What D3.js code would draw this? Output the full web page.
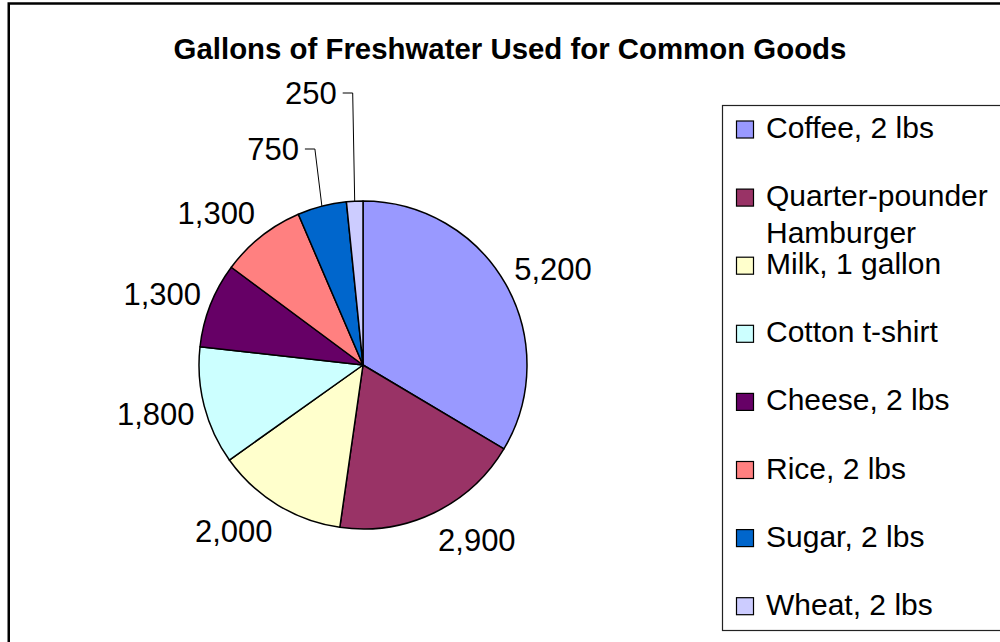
<!DOCTYPE html>
<html>
<head>
<meta charset="utf-8">
<script src="https://cdn.jsdelivr.net/npm/d3@7"></script>
<style>
  html, body { margin: 0; padding: 0; background: #fff; }
  svg { display: block; font-family: "Liberation Sans", Arial, sans-serif; }
</style>
</head>
<body>
<svg id="chart"></svg>
<script>
const categories = [
  ["Coffee, 2 lbs"],
  ["Quarter-pounder", "Hamburger"],
  ["Milk, 1 gallon"],
  ["Cotton t-shirt"],
  ["Cheese, 2 lbs"],
  ["Rice, 2 lbs"],
  ["Sugar, 2 lbs"],
  ["Wheat, 2 lbs"]
];
const gallons = [5200, 2900, 2000, 1800, 1300, 1300, 750, 250];
const colors = ["#9999FF", "#993366", "#FFFFCC", "#CCFFFF", "#660066", "#FF8080", "#0066CC", "#CCCCFF"];
// labels dragged away from the pie, with a leader line: [index, label y, corner shift]
const movedLabels = [[6, 149, 7], [7, 93, 2]];

const width = 1000;
const height = 642;
const cx = 363;
const cy = 365;
const radius = 164;

const svg = d3.select("#chart").attr("width", width).attr("height", height);

svg
  .append("rect")
  .attr("x", 8.75)
  .attr("y", 3.5)
  .attr("width", 1100)
  .attr("height", 800)
  .attr("fill", "#fff")
  .attr("stroke", "#000")
  .attr("stroke-width", 2.5);

svg
  .append("text")
  .attr("x", 510)
  .attr("y", 59)
  .attr("text-anchor", "middle")
  .style("font-size", "29.4px")
  .style("font-weight", "bold")
  .text("Gallons of Freshwater Used for Common Goods");

const pie = d3.pie().sort(null).value((d) => d);
const arcs = pie(gallons);
const arc = d3.arc().innerRadius(0).outerRadius(radius);

const g = svg.append("g").attr("transform", `translate(${cx},${cy})`);

g.selectAll("path")
  .data(arcs)
  .join("path")
  .attr("d", arc)
  .attr("fill", (d, i) => colors[i])
  .attr("stroke", "#000")
  .attr("stroke-width", 1.5)
  .attr("stroke-linejoin", "round");

const fmt = d3.format(",");
const mid = (d) => (d.startAngle + d.endAngle) / 2;
const moved = new Map(movedLabels.map((m) => [m[0], m]));

const labels = g
  .selectAll("g.label")
  .data(arcs)
  .join("g")
  .attr("class", "label");

labels.each(function (d, i) {
  const a = mid(d);
  const sel = d3.select(this);
  if (moved.has(i)) {
    const [, ly, shift] = moved.get(i);
    const ex = radius * Math.sin(a);
    const ey = -radius * Math.cos(a);
    const corner = [ex - shift, ly - cy];
    sel
      .append("path")
      .attr("d", d3.line()([[ex, ey], corner, [corner[0] - 10, corner[1]]]))
      .attr("fill", "none")
      .attr("stroke", "#000")
      .attr("stroke-width", 1);
    sel
      .append("text")
      .attr("x", corner[0] - 16)
      .attr("y", corner[1] + 11)
      .attr("text-anchor", "end")
      .style("font-size", "31px")
      .text(fmt(d.data));
  } else {
    const r = radius + 10;
    const px = r * Math.sin(a);
    const py = -r * Math.cos(a) - Math.cos(a) * 20;
    sel
      .append("text")
      .attr("x", px)
      .attr("y", py + 11)
      .attr("text-anchor", Math.sin(a) > 0 ? "start" : "end")
      .style("font-size", "31px")
      .text(fmt(d.data));
  }
});

const legend = svg.append("g");
legend
  .append("rect")
  .attr("x", 722.5)
  .attr("y", 105.5)
  .attr("width", 400)
  .attr("height", 525)
  .attr("fill", "#fff")
  .attr("stroke", "#222")
  .attr("stroke-width", 1.2);

const rowY = d3
  .scaleLinear()
  .domain([0, categories.length - 1])
  .range([138, 614.7]);

const items = legend
  .selectAll("g.item")
  .data(categories)
  .join("g")
  .attr("class", "item")
  .attr("transform", (d, i) => `translate(0,${rowY(i)})`);

items
  .append("rect")
  .attr("x", 736.5)
  .attr("y", -17)
  .attr("width", 17)
  .attr("height", 17)
  .attr("fill", (d, i) => colors[i])
  .attr("stroke", "#000")
  .attr("stroke-width", 1.2);

items
  .append("text")
  .attr("x", 766)
  .attr("y", 0)
  .style("font-size", "30px")
  .selectAll("tspan")
  .data((d) => d)
  .join("tspan")
  .attr("x", 766)
  .attr("dy", (d, j) => (j === 0 ? 0 : 37))
  .text((d) => d);
</script>
</body>
</html>
